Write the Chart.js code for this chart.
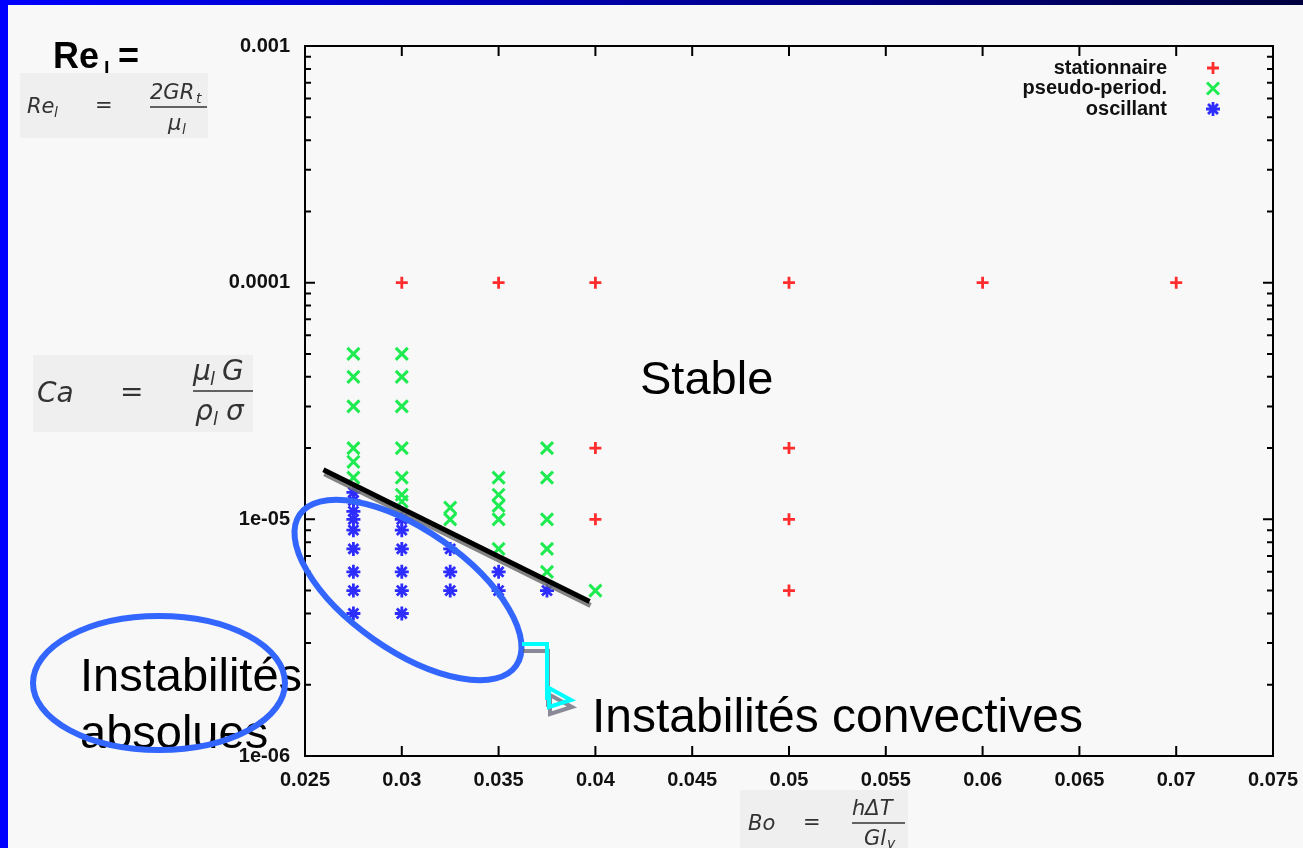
<!DOCTYPE html>
<html>
<head>
<meta charset="utf-8">
<title>Ca - Bo</title>
<script src="https://cdn.jsdelivr.net/npm/chart.js@4.4.1/dist/chart.umd.min.js"></script>
<style>
  html, body { margin: 0; padding: 0; background: #f8f8f8; }
  #wrap { position: relative; width: 1303px; height: 848px; }
</style>
</head>
<body>
<div id="wrap"><canvas id="myChart"></canvas></div>
<script>
// axis ticks
const xTickValues = [0.025, 0.03, 0.035, 0.04, 0.045, 0.05, 0.055, 0.06, 0.065, 0.07, 0.075];
const xTickLabels = ['0.025', '0.03', '0.035', '0.04', '0.045', '0.05', '0.055', '0.06', '0.065', '0.07', '0.075'];
const yTickValues = [1e-6, 1e-5, 1e-4, 1e-3];
const yTickLabels = ['1e-06', '1e-05', '0.0001', '0.001'];

const seriesNames = ['stationnaire', 'pseudo-period.', 'oscillant'];

// stationnaire (+)
const statBo = [0.03, 0.035, 0.04, 0.05, 0.06, 0.07, 0.04, 0.05, 0.04, 0.05, 0.05];
const statCa = [1e-4, 1e-4, 1e-4, 1e-4, 1e-4, 1e-4, 2e-5, 2e-5, 1e-5, 1e-5, 5e-6];

// pseudo-periodique (x)
const pseudoBo = [0.0275, 0.0275, 0.0275, 0.0275, 0.0275, 0.0275,
                  0.03, 0.03, 0.03, 0.03, 0.03, 0.03, 0.03,
                  0.0325, 0.0325,
                  0.035, 0.035, 0.035, 0.035, 0.035,
                  0.0375, 0.0375, 0.0375, 0.0375, 0.0375,
                  0.04];
const pseudoCa = [5e-5, 4e-5, 3e-5, 2e-5, 1.75e-5, 1.5e-5,
                  5e-5, 4e-5, 3e-5, 2e-5, 1.5e-5, 1.27e-5, 1.19e-5,
                  1.12e-5, 1e-5,
                  1.5e-5, 1.27e-5, 1.14e-5, 1e-5, 7.5e-6,
                  2e-5, 1.5e-5, 1e-5, 7.5e-6, 6e-6,
                  5e-6];

// oscillant (*)
const oscBo = [0.0275, 0.0275, 0.0275, 0.0275, 0.0275, 0.0275, 0.0275, 0.0275, 0.0275,
               0.03, 0.03, 0.03, 0.03, 0.03, 0.03,
               0.0325, 0.0325, 0.0325,
               0.035, 0.035,
               0.0375];
const oscCa = [1.3e-5, 1.2e-5, 1.08e-5, 1e-5, 9e-6, 7.5e-6, 6e-6, 5e-6, 4e-6,
               1e-5, 9e-6, 7.5e-6, 6e-6, 5e-6, 4e-6,
               7.5e-6, 6e-6, 5e-6,
               6e-6, 5e-6,
               5e-6];

// frontiere tracee a la main
const limitBo = [0.02595, 0.0397];
const limitCa = [1.62e-5, 4.5e-6];

const zip = (xs, ys) => xs.map((x, i) => ({ x: x, y: ys[i] }));

const textFont = '"Liberation Sans", Arial, sans-serif';
const mathFont = '"DejaVu Sans", sans-serif';

// fond de la diapo + formules
const slidePlugin = {
    id: 'slide',
    beforeDraw(chart) {
        const ctx = chart.ctx;
        ctx.save();
        ctx.fillStyle = '#f8f8f8';
        ctx.fillRect(0, 0, chart.width, chart.height);
        const grad = ctx.createLinearGradient(0, 0, chart.width, 0);
        grad.addColorStop(0, '#0000ff');
        grad.addColorStop(1, '#000040');
        ctx.fillStyle = grad;
        ctx.fillRect(0, 0, chart.width, 5);
        ctx.fillStyle = '#0000ff';
        ctx.fillRect(0, 0, 8, chart.height);

        // Re_l =
        ctx.fillStyle = '#000';
        ctx.textBaseline = 'alphabetic';
        ctx.font = 'bold 36px ' + textFont;
        ctx.fillText('Re', 53, 68);
        ctx.font = 'bold 20px ' + textFont;
        ctx.fillText('l', 104, 76);
        ctx.font = 'bold 36px ' + textFont;
        ctx.fillText('=', 118, 68);

        ctx.fillStyle = '#efefef';
        ctx.fillRect(20, 73, 188, 65);
        ctx.fillRect(33, 355, 220, 77);
        ctx.fillRect(740, 790, 168, 58);

        ctx.fillStyle = '#333';
        ctx.strokeStyle = '#333';
        ctx.lineWidth = 1.5;
        // Re_l = 2GR_t / mu_l
        ctx.font = 'italic 21px ' + mathFont;
        ctx.fillText('Re', 27, 113);
        ctx.font = 'italic 14px ' + mathFont;
        ctx.fillText('l', 54, 117);
        ctx.font = '21px ' + mathFont;
        ctx.fillText('=', 95, 112);
        ctx.font = 'italic 21px ' + mathFont;
        ctx.fillText('2GR', 150, 99);
        ctx.font = 'italic 14px ' + mathFont;
        ctx.fillText('t', 196, 103);
        ctx.beginPath(); ctx.moveTo(150, 107); ctx.lineTo(207, 107); ctx.stroke();
        ctx.font = 'italic 21px ' + mathFont;
        ctx.fillText('\u03bc', 168, 130);
        ctx.font = 'italic 14px ' + mathFont;
        ctx.fillText('l', 182, 134);

        // Ca = mu_l G / rho_l sigma
        ctx.font = 'italic 28px ' + mathFont;
        ctx.fillText('Ca', 37, 402);
        ctx.font = '28px ' + mathFont;
        ctx.fillText('=', 120, 401);
        ctx.font = 'italic 28px ' + mathFont;
        ctx.fillText('\u03bc', 193, 380);
        ctx.fillText('G', 222, 380);
        ctx.font = 'italic 18px ' + mathFont;
        ctx.fillText('l', 210, 385);
        ctx.beginPath(); ctx.moveTo(193, 391); ctx.lineTo(253, 391); ctx.stroke();
        ctx.font = 'italic 28px ' + mathFont;
        ctx.fillText('\u03c1', 195, 420);
        ctx.fillText('\u03c3', 226, 420);
        ctx.font = 'italic 18px ' + mathFont;
        ctx.fillText('l', 213, 425);

        // Bo = h dT / G l_v
        ctx.font = 'italic 21px ' + mathFont;
        ctx.fillText('Bo', 748, 830);
        ctx.font = '21px ' + mathFont;
        ctx.fillText('=', 803, 829);
        ctx.font = 'italic 21px ' + mathFont;
        ctx.fillText('h\u0394T', 852, 815);
        ctx.beginPath(); ctx.moveTo(852, 823); ctx.lineTo(905, 823); ctx.stroke();
        ctx.fillText('Gl', 864, 845);
        ctx.font = 'italic 14px ' + mathFont;
        ctx.fillText('v', 887, 848);
        ctx.restore();
    }
};

// cadre et graduations internes facon gnuplot
const framePlugin = {
    id: 'frame',
    beforeDatasetsDraw(chart) {
        const ctx = chart.ctx;
        const a = chart.chartArea;
        const xs = chart.scales.x, ys = chart.scales.y;
        ctx.save();
        ctx.strokeStyle = '#000';
        ctx.lineWidth = 2;
        ctx.strokeRect(a.left, a.top, a.right - a.left, a.bottom - a.top);
        ctx.beginPath();
        xTickValues.forEach(v => {
            const px = xs.getPixelForValue(v);
            ctx.moveTo(px, a.bottom); ctx.lineTo(px, a.bottom - 10);
            ctx.moveTo(px, a.top); ctx.lineTo(px, a.top + 10);
        });
        yTickValues.forEach(v => {
            const py = ys.getPixelForValue(v);
            ctx.moveTo(a.left, py); ctx.lineTo(a.left + 10, py);
            ctx.moveTo(a.right, py); ctx.lineTo(a.right - 10, py);
        });
        for (let i = 0; i < yTickValues.length - 1; i++) {
            for (let k = 2; k <= 9; k++) {
                const py = ys.getPixelForValue(k * yTickValues[i]);
                ctx.moveTo(a.left, py); ctx.lineTo(a.left + 6, py);
                ctx.moveTo(a.right, py); ctx.lineTo(a.right - 6, py);
            }
        }
        ctx.stroke();
        ctx.restore();
    },
    // ombre grise sous la droite noire
    beforeDatasetDraw(chart, args) {
        if (args.meta.type === 'line') {
            chart.ctx.save();
            chart.ctx.shadowColor = 'rgba(110,110,110,0.85)';
            chart.ctx.shadowOffsetY = 4;
            chart.ctx.shadowOffsetX = 1;
        }
    },
    afterDatasetDraw(chart, args) {
        if (args.meta.type === 'line') chart.ctx.restore();
    }
};

// legende en haut a droite
const keyPlugin = {
    id: 'key',
    afterDatasetsDraw(chart) {
        const ctx = chart.ctx;
        ctx.save();
        ctx.font = 'bold 20px ' + textFont;
        ctx.fillStyle = '#111';
        ctx.textAlign = 'right';
        ctx.textBaseline = 'middle';
        seriesNames.forEach((name, i) => {
            const ds = chart.data.datasets[i];
            const y = 68 + i * 20.5;
            ctx.fillText(name, 1167, y);
            ctx.strokeStyle = ds.borderColor;
            ctx.lineWidth = ds.borderWidth;
            Chart.helpers.drawPoint(ctx, {
                pointStyle: ds.pointStyle, radius: ds.pointRadius, rotation: 0, borderWidth: ds.borderWidth
            }, 1213, y);
        });
        ctx.restore();
    }
};

// annotations de la diapo
const notesPlugin = {
    id: 'notes',
    afterDraw(chart) {
        const ctx = chart.ctx;
        ctx.save();
        ctx.fillStyle = '#000';
        ctx.font = '47px ' + textFont;
        ctx.textBaseline = 'alphabetic';
        ctx.fillText('Stable', 640, 394);
        ctx.fillText('Instabilit\u00e9s', 80, 691);
        ctx.fillText('absolues', 80, 748);
        ctx.font = '48px ' + textFont;
        ctx.fillText('Instabilit\u00e9s convectives', 592, 732);

        ctx.strokeStyle = 'rgb(51,102,255)';
        ctx.lineWidth = 6;
        ctx.beginPath();
        ctx.ellipse(408, 590, 132, 60, 0.61, 0, Math.PI * 2);
        ctx.stroke();
        ctx.beginPath();
        ctx.ellipse(159, 683, 126, 67, 0, 0, Math.PI * 2);
        ctx.stroke();

        ctx.shadowColor = 'rgba(90,90,110,0.7)';
        ctx.shadowOffsetY = 7;
        ctx.shadowOffsetX = 1;
        ctx.strokeStyle = '#00ffff';
        ctx.lineWidth = 4;
        ctx.beginPath();
        ctx.moveTo(522, 644);
        ctx.lineTo(547, 644);
        ctx.lineTo(547, 700);
        ctx.stroke();
        ctx.beginPath();
        ctx.moveTo(549, 688);
        ctx.lineTo(571, 700);
        ctx.lineTo(549, 707);
        ctx.closePath();
        ctx.stroke();
        ctx.restore();
    }
};

const ctx = document.getElementById('myChart').getContext('2d');
const chart = new Chart(ctx, {
    type: 'scatter',
    data: {
        datasets: [
            {
                label: seriesNames[0],
                data: zip(statBo, statCa),
                pointStyle: 'cross',
                pointRadius: 6,
                borderColor: 'rgb(255,45,45)',
                borderWidth: 2.8,
                order: 3
            },
            {
                label: seriesNames[1],
                data: zip(pseudoBo, pseudoCa),
                pointStyle: 'crossRot',
                pointRadius: 8.5,
                borderColor: 'rgb(30,235,80)',
                borderWidth: 3,
                order: 2
            },
            {
                label: seriesNames[2],
                data: zip(oscBo, oscCa),
                pointStyle: 'star',
                pointRadius: 7,
                borderColor: 'rgb(45,45,255)',
                borderWidth: 2.8,
                order: 1
            },
            {
                type: 'line',
                label: 'limite',
                data: zip(limitBo, limitCa),
                borderColor: '#000',
                borderWidth: 5,
                pointRadius: 0,
                showLine: true,
                order: 0
            }
        ]
    },
    options: {
        responsive: true,
        maintainAspectRatio: false,
        animation: false,
        events: [],
        layout: { padding: { top: 46, right: 30, left: 0, bottom: 0 } },
        plugins: {
            legend: { display: false },
            tooltip: { enabled: false }
        },
        scales: {
            x: {
                type: 'linear',
                min: 0.025,
                max: 0.075,
                grid: { display: false, drawTicks: false },
                border: { display: false },
                afterBuildTicks: scale => {
                    scale.ticks = xTickValues.map(v => ({ value: v }));
                },
                afterFit: scale => {
                    scale.height = 92;
                    scale.paddingLeft = 0;
                    scale.paddingRight = 0;
                },
                ticks: {
                    autoSkip: false,
                    maxRotation: 0,
                    padding: 12,
                    color: '#111',
                    font: { family: textFont, size: 20, weight: 'bold' },
                    callback: (value, index) => xTickLabels[index]
                }
            },
            y: {
                type: 'logarithmic',
                min: 1e-6,
                max: 1e-3,
                grid: { display: false, drawTicks: false },
                border: { display: false },
                afterBuildTicks: scale => {
                    scale.ticks = yTickValues.map(v => ({ value: v }));
                },
                afterFit: scale => {
                    scale.width = 305;
                    scale.paddingTop = 0;
                    scale.paddingBottom = 0;
                },
                ticks: {
                    autoSkip: false,
                    padding: 15,
                    color: '#111',
                    font: { family: textFont, size: 20, weight: 'bold' },
                    callback: (value, index) => yTickLabels[index]
                }
            }
        }
    },
    plugins: [slidePlugin, framePlugin, keyPlugin, notesPlugin]
});
</script>
</body>
</html>
